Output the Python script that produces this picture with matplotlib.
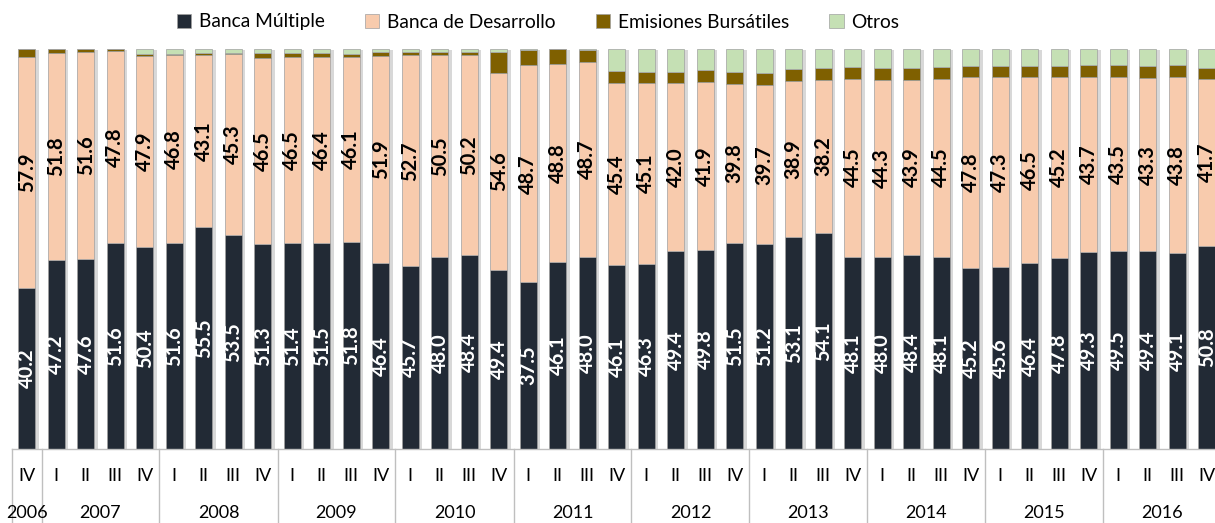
import numpy as np
import matplotlib
matplotlib.use('Agg')
import matplotlib.pyplot as plt
import matplotlib.patheffects as pe

plt.rcParams['font.family'] = ['Lato', 'DejaVu Sans']

# ---------------- data ----------------
quarters = ['IV'] + ['I', 'II', 'III', 'IV'] * 10
bar_years = ['2006'] + [str(y) for y in range(2007, 2017) for _ in range(4)]

banca_multiple = [40.2, 47.2, 47.6, 51.6, 50.4, 51.6, 55.5, 53.5, 51.3, 51.4, 51.5, 51.8,
                  46.4, 45.7, 48.0, 48.4, 49.4, 37.5, 46.1, 48.0, 46.1, 46.3, 49.4, 49.8,
                  51.5, 51.2, 53.1, 54.1, 48.1, 48.0, 48.4, 48.1, 45.2, 45.6, 46.4, 47.8,
                  49.3, 49.5, 49.4, 49.1, 50.8]
banca_desarrollo = [57.9, 51.8, 51.6, 47.8, 47.9, 46.8, 43.1, 45.3, 46.5, 46.5, 46.4, 46.1,
                    51.9, 52.7, 50.5, 50.2, 54.6, 48.7, 48.8, 48.7, 45.4, 45.1, 42.0, 41.9,
                    39.8, 39.7, 38.9, 38.2, 44.5, 44.3, 43.9, 44.5, 47.8, 47.3, 46.5, 45.2,
                    43.7, 43.5, 43.3, 43.8, 41.7]
emisiones = [1.9, 1.0, 0.8, 0.6, 0.5, 0.4, 0.4, 0.3, 1.3, 1.0, 1.0, 0.9,
             0.9, 0.8, 0.8, 0.7, 5.7, 3.5, 3.6, 3.0, 3.0, 2.9, 2.9, 3.1,
             3.0, 3.0, 3.1, 2.9, 2.9, 2.9, 2.9, 2.8, 2.7, 2.8, 2.8, 2.8,
             2.9, 2.9, 3.1, 3.0, 2.8]
otros = [0.0, 0.0, 0.0, 0.0, 1.2, 1.2, 1.0, 0.9, 0.9, 1.1, 1.1, 1.2,
         0.8, 0.8, 0.7, 0.7, 0.8, 0.2, 0.0, 0.3, 5.6, 5.7, 5.7, 5.2,
         5.7, 6.1, 4.9, 4.8, 4.5, 4.8, 4.8, 4.6, 4.3, 4.3, 4.3, 4.2,
         4.1, 4.1, 4.2, 4.1, 4.7]
series_names = ['Banca Múltiple', 'Banca de Desarrollo', 'Emisiones Bursátiles', 'Otros']

# ---------------- style ----------------
colors = ['#222A35', '#F8CBAD', '#7F6000', '#C5E0B4']
W, H = 1215, 523
fig = plt.figure(figsize=(W / 100, H / 100), dpi=100)
ax_left, ax_bottom, ax_top = 12, 449, 49
ax = fig.add_axes([ax_left / W, (H - ax_bottom) / H, (W - ax_left) / W, (ax_bottom - ax_top) / H])

n = len(quarters)
x = np.arange(n)
vals = np.array([banca_multiple, banca_desarrollo, emisiones, otros], dtype=float)
tot = vals.sum(axis=0)
pct = vals / tot * 100.0

bw = 0.58
# shadow bars
ax.bar(x, pct.sum(axis=0), bw, color='white', zorder=1,
       path_effects=[pe.SimplePatchShadow(offset=(2.5, -1), shadow_rgbFace='#808080', alpha=0.3),
                     pe.Normal()])

bottom = np.zeros(n)
handles = []
for k in range(4):
    h = ax.bar(x, pct[k], bw, bottom=bottom, color=colors[k], edgecolor='#A0A0A0',
               linewidth=0.5, zorder=2, label=series_names[k])
    handles.append(h)
    if k < 2:
        for i in range(n):
            ax.text(x[i], bottom[i] + pct[k][i] / 2, f'{vals[k][i]:.1f}', rotation=90,
                    ha='center', va='center', fontsize=14.5, fontweight='bold',
                    color='white' if k == 0 else 'black', zorder=3)
    bottom += pct[k]

ax.set_ylim(0, 100)
ax.set_xlim(-0.5, -0.5 + (W - ax_left) / 29.5)
for s in ['top', 'right', 'left']:
    ax.spines[s].set_visible(False)
ax.spines['bottom'].set_color('#BFBFBF')
ax.spines['bottom'].set_linewidth(1.0)
ax.set_xticks([])
ax.set_yticks([])

px = 100.0 / (ax_bottom - ax_top)  # data units per pixel
# quarter labels
for i, q in enumerate(quarters):
    ax.text(x[i], -(476 - ax_bottom) * px, q, ha='center', va='center',
            fontsize=13, clip_on=False)

# year groups
groups = []
start = 0
for i in range(1, n + 1):
    if i == n or bar_years[i] != bar_years[start]:
        groups.append((bar_years[start], start, i - 1))
        start = i
for name, s, e in groups:
    ax.text((s + e) / 2, -(513 - ax_bottom) * px, name, ha='center', va='center',
            fontsize=13, clip_on=False)
    ax.plot([s - 0.5, s - 0.5], [0, -(H - ax_bottom) * px], color='#BFBFBF', lw=1.0,
            clip_on=False, zorder=0)

fig.legend(handles, series_names, loc='center', bbox_to_anchor=(538 / W, 1 - 22 / H),
           ncol=4, frameon=False, handlelength=0.75, handleheight=0.75, handletextpad=0.4,
           columnspacing=2.1, fontsize=13.8)

fig.savefig('out.png', dpi=100)
